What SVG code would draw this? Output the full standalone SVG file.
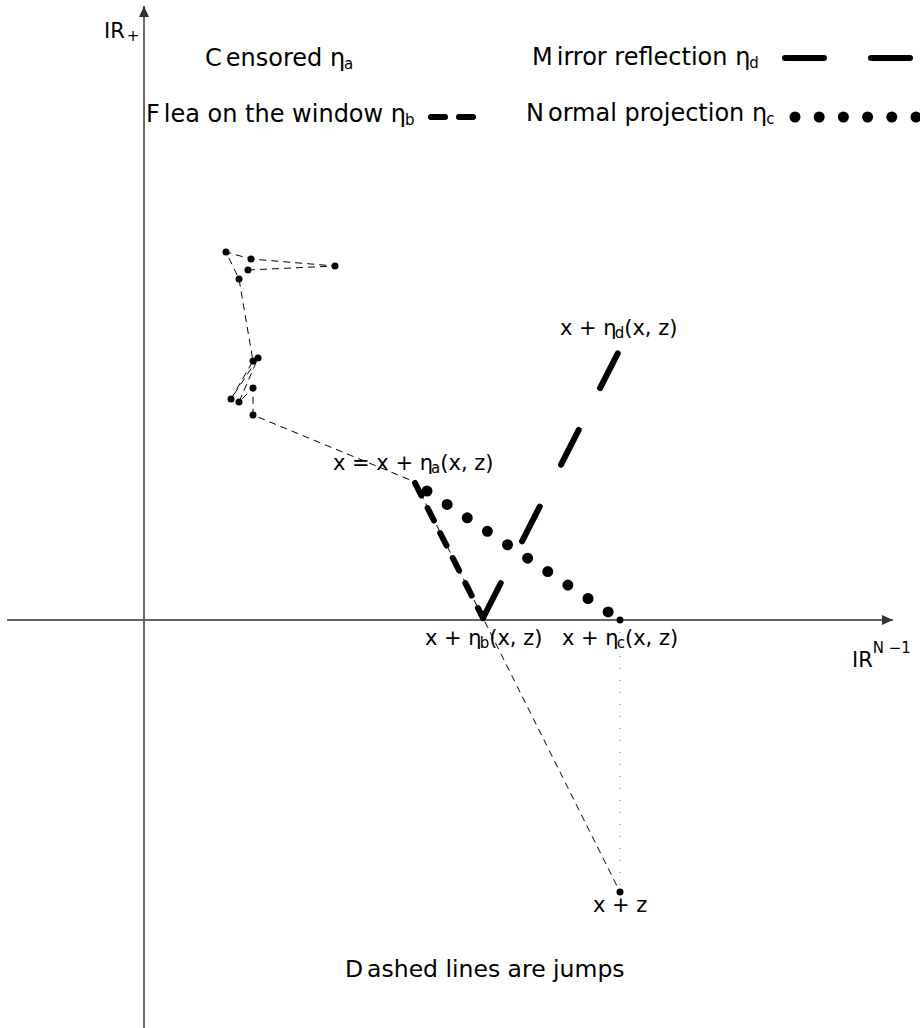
<svg xmlns="http://www.w3.org/2000/svg" width="920" height="1028" viewBox="0 0 920 1028">
<defs>
<marker id="ah" markerUnits="userSpaceOnUse" markerWidth="12" markerHeight="10" refX="11" refY="5" orient="auto">
<path d="M0,0 L11,5 L0,10 z" fill="#333"/>
</marker>
<style>
text{font-family:"DejaVu Sans","Liberation Sans",sans-serif;font-size:21px;fill:#000}
.prose{font-size:23.5px}
.leg{font-size:24px}
.sub{font-size:15px}
.axis{stroke:#666;stroke-width:2;fill:none}
.jump{stroke:#000;stroke-width:1;stroke-dasharray:7 5;fill:none}
.flea{stroke:#000;stroke-width:6;stroke-linecap:round;stroke-dasharray:14 14;fill:none}
.mirror{stroke:#000;stroke-width:6;stroke-linecap:round;stroke-dasharray:39 47;fill:none}
.normal{stroke:#000;stroke-width:11;stroke-linecap:round;stroke-dasharray:0 24.2;fill:none}
.proj{stroke:#777;stroke-width:1;stroke-dasharray:1 11;fill:none}
.pt{fill:#000}
</style>
</defs>
<rect width="920" height="1028" fill="#fff"/>

<g id="axes">
<line class="axis" x1="144" y1="1028" x2="144" y2="6" marker-end="url(#ah)"/>
<line class="axis" x1="7" y1="620" x2="893" y2="620" marker-end="url(#ah)"/>
<text x="104" y="38">IR<tspan class="sub" dx="2" dy="3">+</tspan></text>
<text x="852" y="667">IR<tspan class="sub" dx="0" dy="-14">N −1</tspan></text>
</g>

<g id="legend">
<text class="leg" x="205" y="66"><tspan>C</tspan><tspan dx="4">ensored η</tspan><tspan class="sub" dx="-1" dy="3">a</tspan></text>
<text class="leg" x="146" y="122"><tspan>F</tspan><tspan dx="4">lea on the window η</tspan><tspan class="sub" dx="-1" dy="3">b</tspan></text>
<line class="flea" x1="431" y1="117" x2="477" y2="117"/>
<text class="leg" x="532" y="65"><tspan>M</tspan><tspan dx="4">irror reflection η</tspan><tspan class="sub" dx="-1" dy="3">d</tspan></text>
<line class="mirror" x1="785" y1="58" x2="930" y2="58"/>
<text class="leg" x="526" y="121"><tspan>N</tspan><tspan dx="4">ormal projection η</tspan><tspan class="sub" dx="-1" dy="3">c</tspan></text>
<line class="normal" x1="795" y1="117" x2="930" y2="117"/>
</g>

<g id="connectors">
<polyline class="jump" points="248,270 335,266 251,259 226,252 239,279 253,361 231,399 258,358 239,402 253,388 253,415 415,482"/>
<line class="jump" x1="415" y1="482" x2="620" y2="892"/>
<line class="proj" x1="620" y1="620" x2="620" y2="892"/>
<line class="flea" x1="415" y1="483" x2="483" y2="618"/>
<line class="mirror" x1="483" y1="618" x2="622" y2="345"/>
<line class="normal" x1="427" y1="491" x2="609" y2="612.5"/>
</g>

<g id="walk">
<circle class="pt" cx="226" cy="252" r="3.5"/>
<circle class="pt" cx="251" cy="259" r="3.5"/>
<circle class="pt" cx="335" cy="266" r="3.5"/>
<circle class="pt" cx="248" cy="270" r="3.5"/>
<circle class="pt" cx="239" cy="279" r="3.5"/>
<circle class="pt" cx="258" cy="358" r="3.5"/>
<circle class="pt" cx="253" cy="361" r="3.5"/>
<circle class="pt" cx="253" cy="388" r="3.5"/>
<circle class="pt" cx="231" cy="399" r="3.5"/>
<circle class="pt" cx="239" cy="402" r="3.5"/>
<circle class="pt" cx="253" cy="415" r="3.5"/>
</g>

<g id="node-x">
<text x="333" y="470">x = x + η<tspan class="sub" dx="-2" dy="3">a</tspan><tspan dy="-3">(x, z)</tspan></text>
</g>
<g id="node-d">
<text x="560" y="335">x + η<tspan class="sub" dx="-2" dy="3">d</tspan><tspan dy="-3">(x, z)</tspan></text>
</g>
<g id="node-b">
<text x="425" y="645">x + η<tspan class="sub" dx="-2" dy="3">b</tspan><tspan dy="-3">(x, z)</tspan></text>
</g>
<g id="node-c">
<circle class="pt" cx="620" cy="620" r="3.5"/>
<text x="562" y="645">x + η<tspan class="sub" dx="-2" dy="3">c</tspan><tspan dy="-3">(x, z)</tspan></text>
</g>
<g id="node-xz">
<circle class="pt" cx="620" cy="892" r="3.5"/>
<text x="593" y="912">x + z</text>
</g>
<g id="caption">
<text class="prose" x="345" y="977"><tspan>D</tspan><tspan dx="4">ashed lines are jumps</tspan></text>
</g>
</svg>
